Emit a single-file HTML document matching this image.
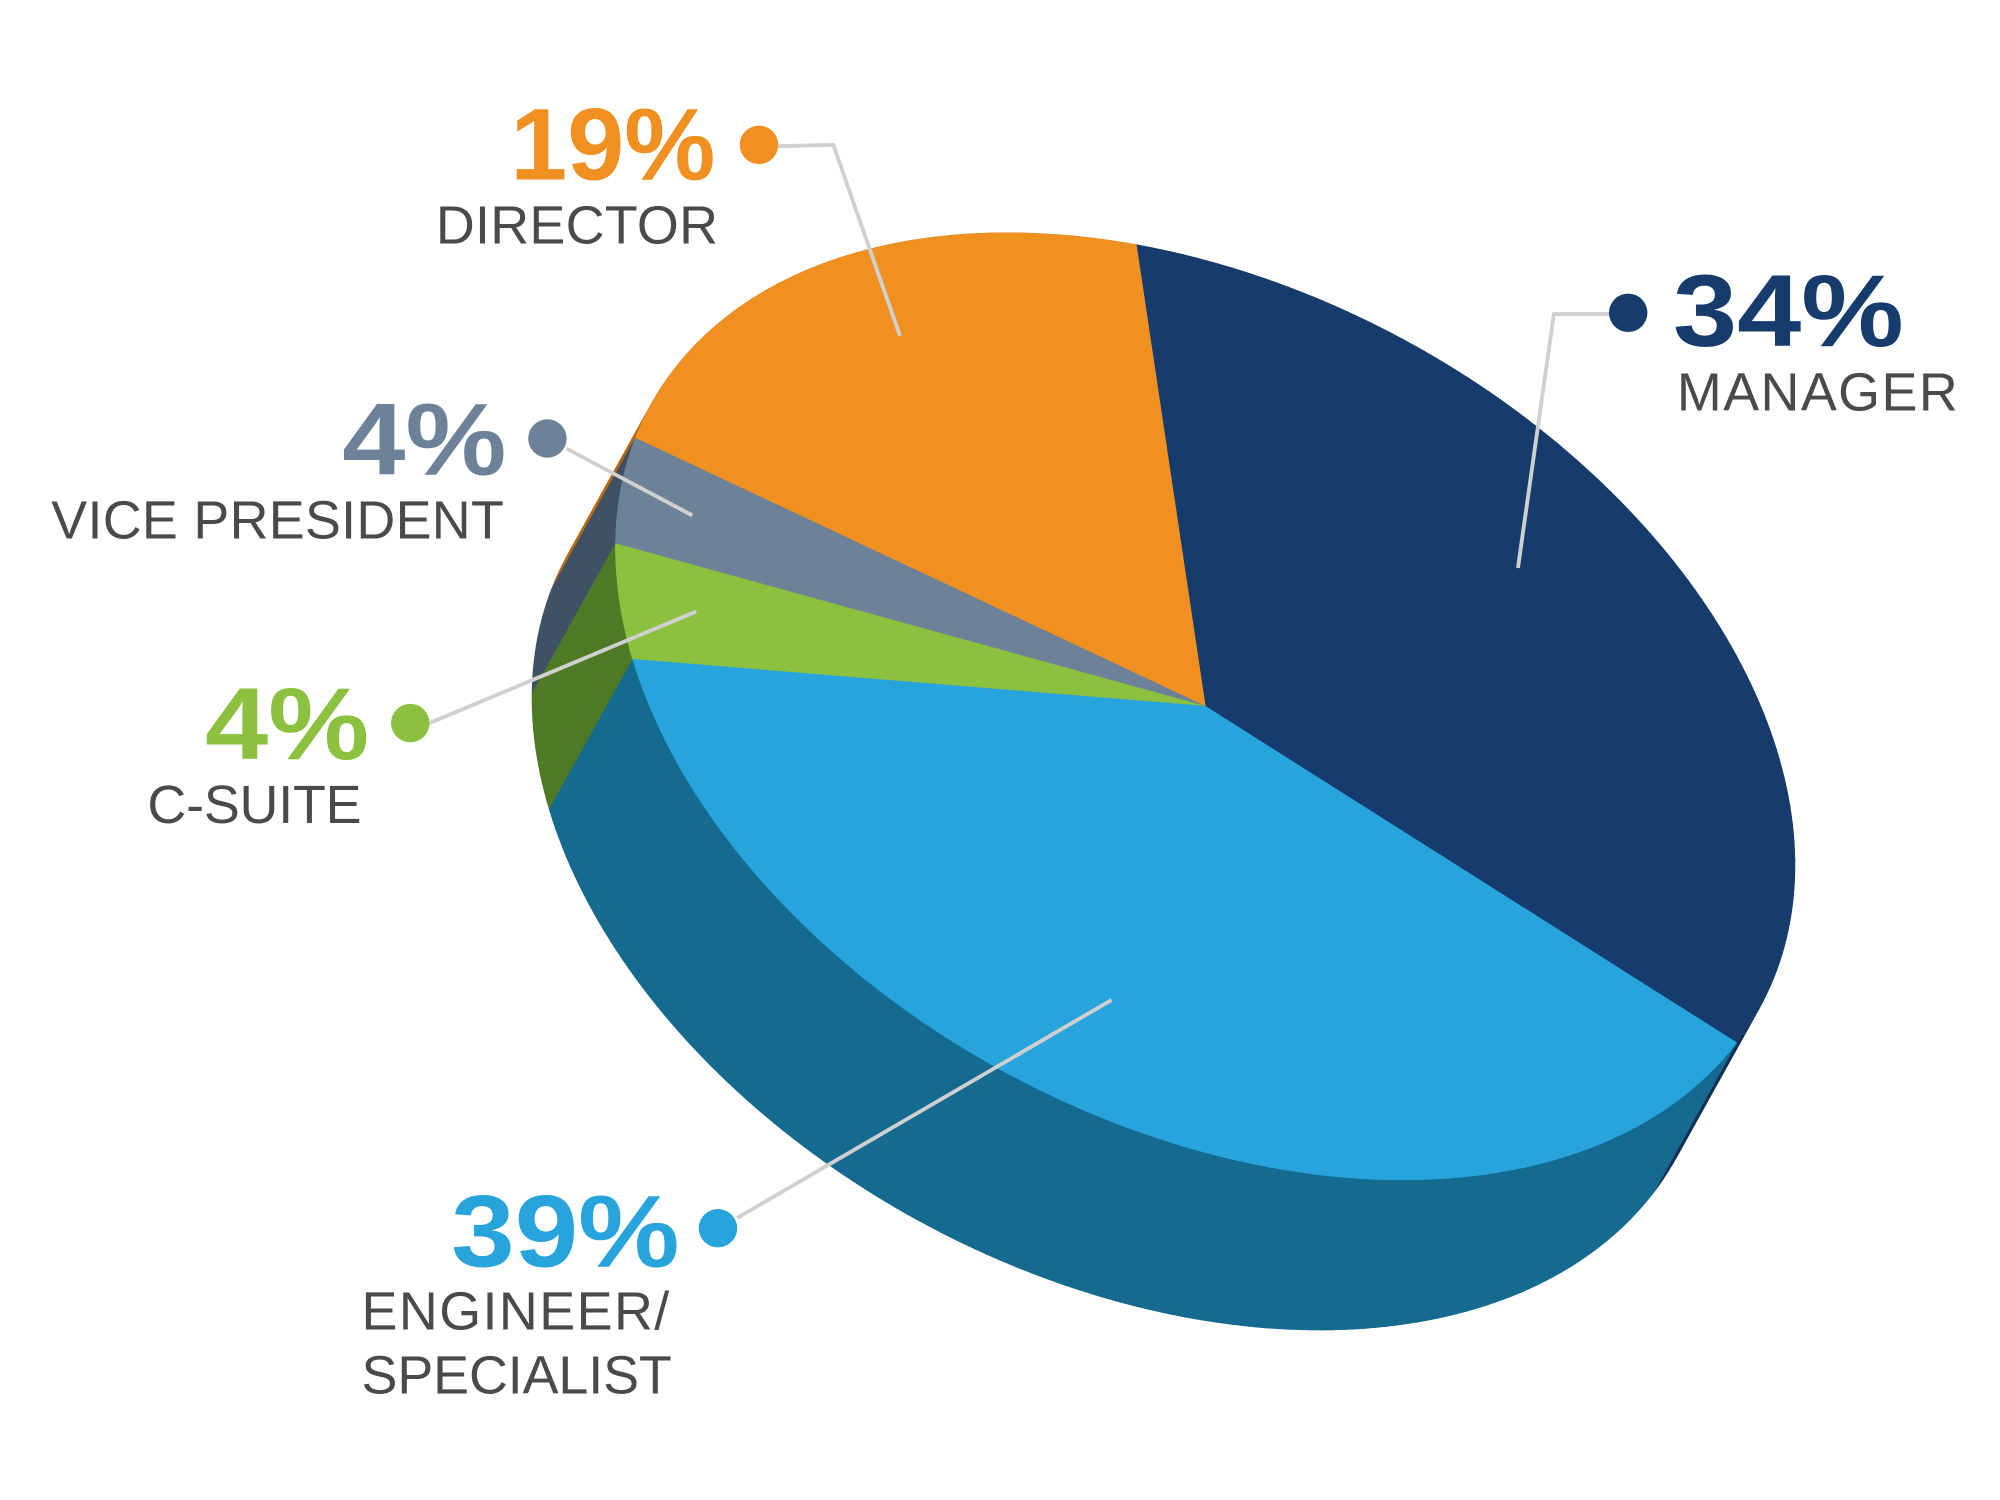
<!DOCTYPE html>
<html><head><meta charset="utf-8"><style>
html,body{margin:0;padding:0;background:#fff}
svg{display:block}
text{font-family:"Liberation Sans",sans-serif}
</style></head><body>
<svg id="chart" width="2000" height="1500" viewBox="0 0 1560 1170" xmlns="http://www.w3.org/2000/svg">
<g id="sides"></g>
<g id="tops"></g>
<g id="labels"></g>
</svg>
<script>
const categories = ["MANAGER", "DIRECTOR", "VICE PRESIDENT", "C-SUITE", "ENGINEER/|SPECIALIST"];
const values = [34, 19, 4, 4, 39];
const topColors = ["#163c6d", "#ef9020", "#6d8198", "#8bc13f", "#28a4dc"];
const sideColors = ["#112f55", "#b86a14", "#3f5164", "#4e7a26", "#146a8f"];

const NS = "http://www.w3.org/2000/svg";
const cx = 940, cy = 551, A = 492, B = 325, rot = 28.3 * Math.PI / 180;
const dx = -65, dy = 117;
const startT = 6.1 * Math.PI / 180;
function rim(t) {
  const lx = A * Math.cos(t), ly = B * Math.sin(t);
  return [cx + lx * Math.cos(rot) - ly * Math.sin(rot), cy + lx * Math.sin(rot) + ly * Math.cos(rot)];
}
const total = values.reduce((s, v) => s + v, 0);
const sides = document.getElementById("sides");
const tops = document.getElementById("tops");
const quads = [];
let t = startT;
const spans = [];
values.forEach((v, i) => {
  const span = v / total * 2 * Math.PI;
  const t0 = t, t1 = t - span;
  spans.push([t0, t1]);
  const n = Math.max(4, Math.ceil(span / 0.02));
  for (let k = 0; k < n; k++) {
    const a = t0 - span * k / n, b = t0 - span * (k + 1) / n;
    const p = rim(a), q = rim(b);
    const depth = ((p[0] + q[0]) / 2 - cx) * dx + ((p[1] + q[1]) / 2 - cy) * dy;
    quads.push({depth, i, pts: [p, q, [q[0] + dx, q[1] + dy], [p[0] + dx, p[1] + dy]]});
  }
  t = t1;
});
quads.sort((a, b) => a.depth - b.depth);
quads.forEach(qd => {
  const el = document.createElementNS(NS, "polygon");
  
  
  el.setAttribute("points", qd.pts.map(p => p.join(",")).join(" "));
  el.setAttribute("fill", sideColors[qd.i]);
  el.setAttribute("stroke", sideColors[qd.i]);
  el.setAttribute("stroke-width", "1");
  sides.appendChild(el);
});
spans.forEach(([t0, t1], i) => {
  const n = 80; let d = `M${cx},${cy}`;
  for (let k = 0; k <= n; k++) { const p = rim(t0 + (t1 - t0) * k / n); d += ` L${p[0]},${p[1]}`; }
  d += "Z";
  const el = document.createElementNS(NS, "path");
  
  
  el.setAttribute("d", d);
  el.setAttribute("fill", topColors[i]);
  el.setAttribute("stroke", topColors[i]);
  el.setAttribute("stroke-width", "0.8");
  tops.appendChild(el);
});

// label layout (positions only)
const layout = [
  {px: 1305, py: 270, pw: 180, lx: 1308, ly: 320, lw: 219, dot: [1270, 244], line: [[1255,245],[1212,245],[1184,443]]},
  {px: 398, py: 140, pw: 160, lx: 340, ly: 190, lw: 220, dot: [592, 113], line: [[607,114],[650,113],[702,262]]},
  {px: 267, py: 370, pw: 128, lx: 40, ly: 420, lw: 353, dot: [427, 342], line: [[442,350],[540,402]]},
  {px: 160, py: 592, pw: 128, lx: 115, ly: 642, lw: 167, dot: [320, 564], line: [[335,564],[543,477]]},
  {px: 352, py: 988, pw: 178, lx: 282, ly: 1037, lw: 240, dot: [560, 958], line: [[575,950],[867,780]]}
];
const labels = document.getElementById("labels");
layout.forEach((L, i) => {
  const pl = document.createElementNS(NS, "polyline");
  
  
  pl.setAttribute("points", L.line.map(p => p.join(",")).join(" "));
  pl.setAttribute("fill", "none"); pl.setAttribute("stroke", "#d0d0d0"); pl.setAttribute("stroke-width", "3");
  labels.appendChild(pl);
  const c = document.createElementNS(NS, "circle");
  
  
  c.setAttribute("cx", L.dot[0]); c.setAttribute("cy", L.dot[1]); c.setAttribute("r", 15);
  c.setAttribute("fill", topColors[i]);
  labels.appendChild(c);
  const pt = document.createElementNS(NS, "text");
  
  
  pt.setAttribute("x", L.px); pt.setAttribute("y", L.py);
  pt.setAttribute("font-size", "80"); pt.setAttribute("font-weight", "bold");
  pt.setAttribute("fill", topColors[i]);
  pt.setAttribute("textLength", L.pw); pt.setAttribute("lengthAdjust", "spacingAndGlyphs");
  pt.textContent = values[i] + "%";
  labels.appendChild(pt);
  categories[i].split("|").forEach((line, j) => {
    const tx = document.createElementNS(NS, "text");
    
    
    tx.setAttribute("x", L.lx); tx.setAttribute("y", L.ly + j * 50);
    tx.setAttribute("font-size", "42");
    tx.setAttribute("fill", "#4a4a4a");
    const w = (j === 1) ? 242 : L.lw;
    tx.setAttribute("textLength", w); tx.setAttribute("lengthAdjust", "spacing");
    tx.textContent = line;
    labels.appendChild(tx);
  });
});
</script>
</body></html>
